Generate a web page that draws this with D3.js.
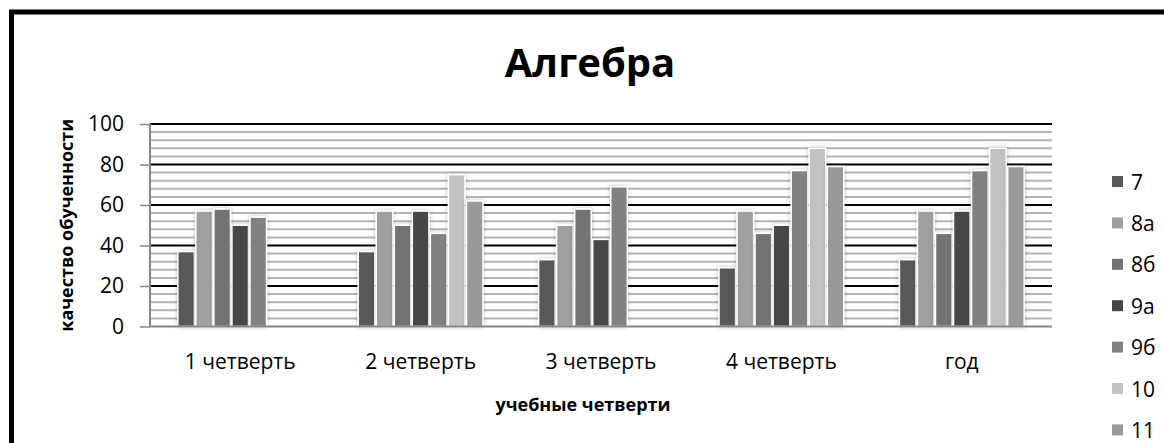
<!DOCTYPE html>
<html>
<head>
<meta charset="utf-8">
<script src="https://cdn.jsdelivr.net/npm/d3@7"></script>
<style>
  body { margin: 0; background: #fff; }
  text { font-family: "Open Sans", "Noto Sans", sans-serif; }
</style>
</head>
<body>
<script>
// data
let categories = ['1 четверть', '2 четверть', '3 четверть', '4 четверть', 'год']
let classes = ['7', '8а', '8б', '9а', '9б', '10', '11']
let v7  = [37, 37, 33, 29, 33]
let v8a = [57, 57, 50, 57, 57]
let v8b = [58, 50, 58, 46, 46]
let v9a = [50, 57, 43, 50, 57]
let v9b = [54, 46, 69, 77, 77]
let v10 = [null, 75, null, 88, 88]
let v11 = [null, 62, null, 79, 79]
let yTicks = [0, 20, 40, 60, 80, 100]

let series = [v7, v8a, v8b, v9a, v9b, v10, v11]
let colors = ['#585858', '#9f9f9f', '#737373', '#464646', '#818181', '#c1c1c1', '#999999']

let svg = d3.select('body').append('svg')
    .attr('width', 1164)
    .attr('height', 443)

// outer frame
svg.append('rect')
    .attr('x', 11.5)
    .attr('y', 12)
    .attr('width', 1200)
    .attr('height', 500)
    .attr('fill', 'none')
    .attr('stroke', '#000')
    .attr('stroke-width', 5)

let defs = svg.append('defs')
defs.append('filter')
    .attr('id', 'glow')
    .attr('x', '-30%').attr('y', '-10%')
    .attr('width', '160%').attr('height', '120%')
  .append('feDropShadow')
    .attr('dx', 0).attr('dy', 0)
    .attr('stdDeviation', 2)
    .attr('flood-color', '#000')
    .attr('flood-opacity', 0.25)

let pLeft = 150, pRight = 1052, pTop = 124, pBottom = 326.5

let yScale = d3.scaleLinear()
    .domain([0, 100])
    .range([pBottom, pTop])

let x0 = d3.scaleBand()
    .domain(categories)
    .range([pLeft, pRight])
    .paddingInner(0.3)
    .paddingOuter(0.15)

let x1 = d3.scaleBand()
    .domain(classes)
    .range([0, x0.bandwidth()])

// minor gridlines every 4
let minor = d3.range(0, 101, 4).filter(function(d) { return d % 20 != 0 })
svg.append('g').selectAll('line')
    .data(minor)
    .enter()
    .append('line')
        .attr('x1', pLeft)
        .attr('x2', pRight)
        .attr('y1', function(d) { return yScale(d) })
        .attr('y2', function(d) { return yScale(d) })
        .attr('stroke', '#b5b5b5')
        .attr('stroke-width', 2)

// major gridlines
svg.append('g').selectAll('line')
    .data(yTicks.filter(function(d) { return d > 0 }))
    .enter()
    .append('line')
        .attr('x1', pLeft)
        .attr('x2', pRight)
        .attr('y1', function(d) { return yScale(d) })
        .attr('y2', function(d) { return yScale(d) })
        .attr('stroke', '#000')
        .attr('stroke-width', 2)

// y axis
let yAxis = d3.axisLeft(yScale)
    .tickValues(yTicks)
    .tickSize(10)
    .tickPadding(16)

let gy = svg.append('g')
    .attr('transform', 'translate(' + pLeft + ',0)')
    .call(yAxis)
gy.select('.domain').remove()
gy.selectAll('.tick line').attr('stroke', '#868686').attr('stroke-width', 1.5)
gy.selectAll('.tick text')
    .attr('font-size', 21)
    .attr('font-family', '"Open Sans", sans-serif')
    .attr('fill', '#000')

svg.append('line')
    .attr('x1', pLeft).attr('x2', pLeft)
    .attr('y1', pTop).attr('y2', pBottom)
    .attr('stroke', '#868686')
    .attr('stroke-width', 2)

// bars
let groups = svg.selectAll('.grp')
    .data(categories)
    .enter()
    .append('g')
        .attr('transform', function(d) { return 'translate(' + x0(d) + ',0)' })

groups.selectAll('rect')
    .data(function(c, i) {
        return series.map(function(s, k) { return { key: classes[k], value: s[i], color: colors[k] } })
            .filter(function(d) { return d.value != null })
    })
    .enter()
    .append('rect')
        .attr('x', function(d) { return x1(d.key) + 0.75 })
        .attr('y', function(d) { return yScale(d.value) })
        .attr('width', x1.bandwidth() - 1.5)
        .attr('height', function(d) { return pBottom - yScale(d.value) })
        .attr('fill', function(d) { return d.color })
        .attr('stroke', '#fff')
        .attr('stroke-width', 1.5)
        .attr('filter', 'url(#glow)')

// x axis
let xAxis = d3.axisBottom(x0)
    .tickSize(0)
    .tickPadding(28)

let gx = svg.append('g')
    .attr('transform', 'translate(0,' + pBottom + ')')
    .call(xAxis)
gx.select('.domain').remove()
gx.selectAll('.tick text')
    .attr('font-size', 21)
    .attr('font-family', '"Open Sans", sans-serif')
    .attr('fill', '#000')

svg.append('line')
    .attr('x1', pLeft).attr('x2', pRight)
    .attr('y1', pBottom).attr('y2', pBottom)
    .attr('stroke', '#868686')
    .attr('stroke-width', 2)

// titles
svg.append('text')
    .attr('x', 590)
    .attr('y', 77)
    .attr('text-anchor', 'middle')
    .attr('font-size', 40)
    .attr('font-weight', 'bold')
    .text('Алгебра')

svg.append('text')
    .attr('x', 583)
    .attr('y', 411)
    .attr('text-anchor', 'middle')
    .attr('font-size', 18)
    .attr('font-weight', 'bold')
    .text('учебные четверти')

svg.append('text')
    .attr('transform', 'translate(73,' + ((pTop + pBottom) / 2) + ') rotate(-90)')
    .attr('text-anchor', 'middle')
    .attr('font-size', 18)
    .attr('font-weight', 'bold')
    .text('качество обученности')

// legend
let legend = svg.selectAll('.leg')
    .data(classes)
    .enter()
    .append('g')
        .attr('transform', function(d, i) { return 'translate(1112,' + (181.5 + i * 41.4) + ')' })

legend.append('rect')
    .attr('x', 0)
    .attr('y', -5.5)
    .attr('width', 11)
    .attr('height', 11)
    .attr('fill', function(d, i) { return colors[i] })

legend.append('text')
    .attr('x', 19)
    .attr('y', 8)
    .attr('font-size', 21)
    .text(function(d) { return d })
</script>
</body>
</html>
